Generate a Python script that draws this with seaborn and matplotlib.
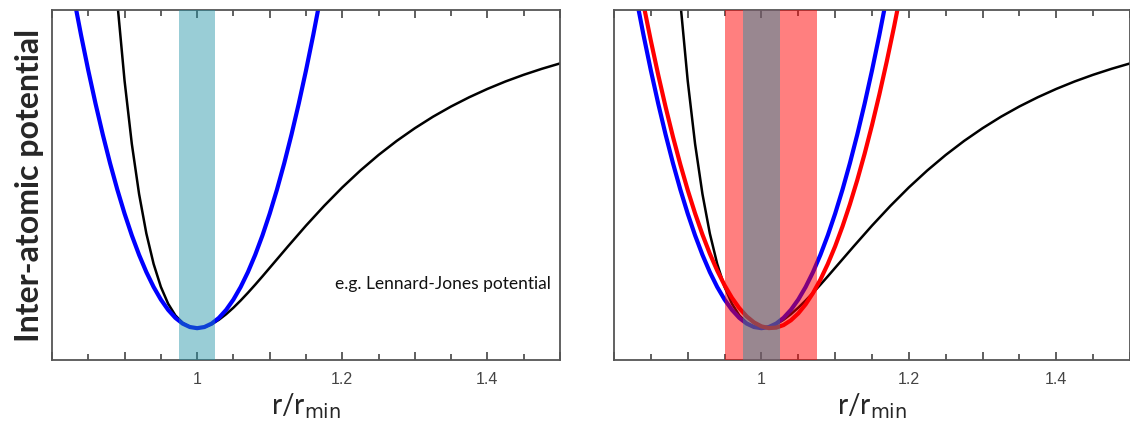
import numpy as np
import pandas as pd
import matplotlib
matplotlib.use("Agg")
import matplotlib.pyplot as plt
from matplotlib.ticker import MultipleLocator, FuncFormatter
import seaborn as sns

# Lennard-Jones curve (black)
lj_r = [0.88, 0.89, 0.90, 0.91, 0.92, 0.93, 0.94, 0.95, 0.96, 0.97, 0.98, 0.99,
        1.00, 1.01, 1.02, 1.03, 1.04, 1.05, 1.06, 1.07, 1.08, 1.09, 1.10,
        1.125, 1.15, 1.175, 1.20, 1.225, 1.25, 1.275, 1.30, 1.325, 1.35,
        1.375, 1.40, 1.425, 1.45, 1.475, 1.50]
lj_v = [0.330, 0.0245, -0.2226, -0.4209, -0.5784, -0.7023, -0.7979, -0.8701,
        -0.9230, -0.9598, -0.9834, -0.9961, -1.0, -0.9966, -0.9875, -0.9736,
        -0.9560, -0.9356, -0.9129, -0.8887, -0.8633, -0.8371, -0.8103,
        -0.7433, -0.6777, -0.6156, -0.5576, -0.5043, -0.4556, -0.4114,
        -0.3715, -0.3354, -0.3031, -0.2741, -0.2480, -0.2245, -0.2036,
        -0.1848, -0.1679]

# harmonic approximation (blue)
harm_r = [0.83, 0.84, 0.85, 0.86, 0.87, 0.88, 0.89, 0.90, 0.91, 0.92, 0.93,
          0.94, 0.95, 0.96, 0.97, 0.98, 0.99, 1.00, 1.01, 1.02, 1.03, 1.04,
          1.05, 1.06, 1.07, 1.08, 1.09, 1.10, 1.11, 1.12, 1.13, 1.14, 1.15,
          1.16, 1.17]
harm_v = [0.0404, -0.0784, -0.19, -0.2944, -0.3916, -0.4816, -0.5644, -0.64,
          -0.7084, -0.7696, -0.8236, -0.8704, -0.91, -0.9424, -0.9676,
          -0.9856, -0.9964, -1.0, -0.9964, -0.9856, -0.9676, -0.9424, -0.91,
          -0.8704, -0.8236, -0.7696, -0.7084, -0.64, -0.5644, -0.4816,
          -0.3916, -0.2944, -0.19, -0.0784, 0.0404]

# shifted / softened approximation (red, right panel)
shift_r = [0.83, 0.84, 0.85, 0.86, 0.87, 0.88, 0.89, 0.90, 0.91, 0.92, 0.93,
           0.94, 0.95, 0.96, 0.97, 0.98, 0.99, 1.00, 1.01, 1.02, 1.03, 1.04,
           1.05, 1.06, 1.07, 1.08, 1.09, 1.10, 1.11, 1.12, 1.13, 1.14, 1.15,
           1.16, 1.17, 1.18, 1.19]
shift_v = [0.1386, 0.0176, -0.0967, -0.2041, -0.3047, -0.3986, -0.4856,
           -0.5659, -0.6393, -0.7059, -0.7658, -0.8188, -0.8651, -0.9045,
           -0.9371, -0.9630, -0.9820, -0.9943, -0.9997, -0.9983, -0.9902,
           -0.9752, -0.9535, -0.9249, -0.8895, -0.8474, -0.7984, -0.7427,
           -0.6801, -0.6107, -0.5346, -0.4516, -0.3619, -0.2653, -0.1619,
           -0.0518, 0.0652]

# shaded ranges of r
band_narrow = (0.975, 1.025)
band_wide = (0.95, 1.075)

tick_labels = {1.0: "1", 1.2: "1.2", 1.4: "1.4"}

sns.set_style("ticks")
plt.rcParams["font.family"] = ["Liberation Sans", "DejaVu Sans"]

fig = plt.figure(figsize=(11.3, 4.3), dpi=100)
ax1 = fig.add_axes([52 / 1130, 70 / 430, 508 / 1130, 350 / 430])
ax2 = fig.add_axes([614 / 1130, 70 / 430, 516 / 1130, 350 / 430])

teal = (30 / 255, 145 / 255, 165 / 255)


def style_axes(ax):
    ax.set_xlim(0.8, 1.5)
    ax.set_ylim(-1.1, 0.0)
    ax.xaxis.set_major_locator(MultipleLocator(0.1))
    ax.xaxis.set_minor_locator(MultipleLocator(0.05))
    ax.xaxis.set_major_formatter(FuncFormatter(
        lambda v, p: tick_labels.get(round(v, 2), "")))
    ax.set_yticks([])
    ax.tick_params(axis="x", which="both", direction="in", top=True,
                   color="#444444", labelsize=11.5, labelcolor="#444444", pad=9)
    ax.tick_params(axis="x", which="major", length=6, width=1.2)
    ax.tick_params(axis="x", which="minor", length=4, width=1.2)
    for s in ax.spines.values():
        s.set_visible(True)
        s.set_color("#555555")
        s.set_linewidth(1.3)
    ax.set_xlabel("r/r$_{\\mathrm{min}}$", fontsize=20, family="Lato", labelpad=3)
    ax.set_ylabel("")


# left panel
sns.lineplot(x=lj_r, y=lj_v, ax=ax1, color="black", lw=1.8, sort=False)
sns.lineplot(x=harm_r, y=harm_v, ax=ax1, color="#0000ff", lw=3.0, sort=False)
ax1.axvspan(*band_narrow, color=teal, alpha=0.45, lw=0, zorder=3)
ax1.text(1.487, -0.86, "e.g. Lennard-Jones potential", ha="right", va="center",
         fontsize=12.5, family="Lato", color="#111111")
style_axes(ax1)
ax1.set_ylabel("Inter-atomic potential", fontsize=23, family="Lato",
               fontweight="bold", labelpad=6)

# right panel
sns.lineplot(x=lj_r, y=lj_v, ax=ax2, color="black", lw=1.8, sort=False)
sns.lineplot(x=harm_r, y=harm_v, ax=ax2, color="#0000ff", lw=3.0, sort=False)
sns.lineplot(x=shift_r, y=shift_v, ax=ax2, color="#ff0000", lw=3.0, sort=False)
ax2.axvspan(*band_wide, color="#ff0000", alpha=0.5, lw=0, zorder=3)
ax2.axvspan(*band_narrow, color=teal, alpha=0.45, lw=0, zorder=4)
style_axes(ax2)

fig.savefig("out.png", dpi=100)
